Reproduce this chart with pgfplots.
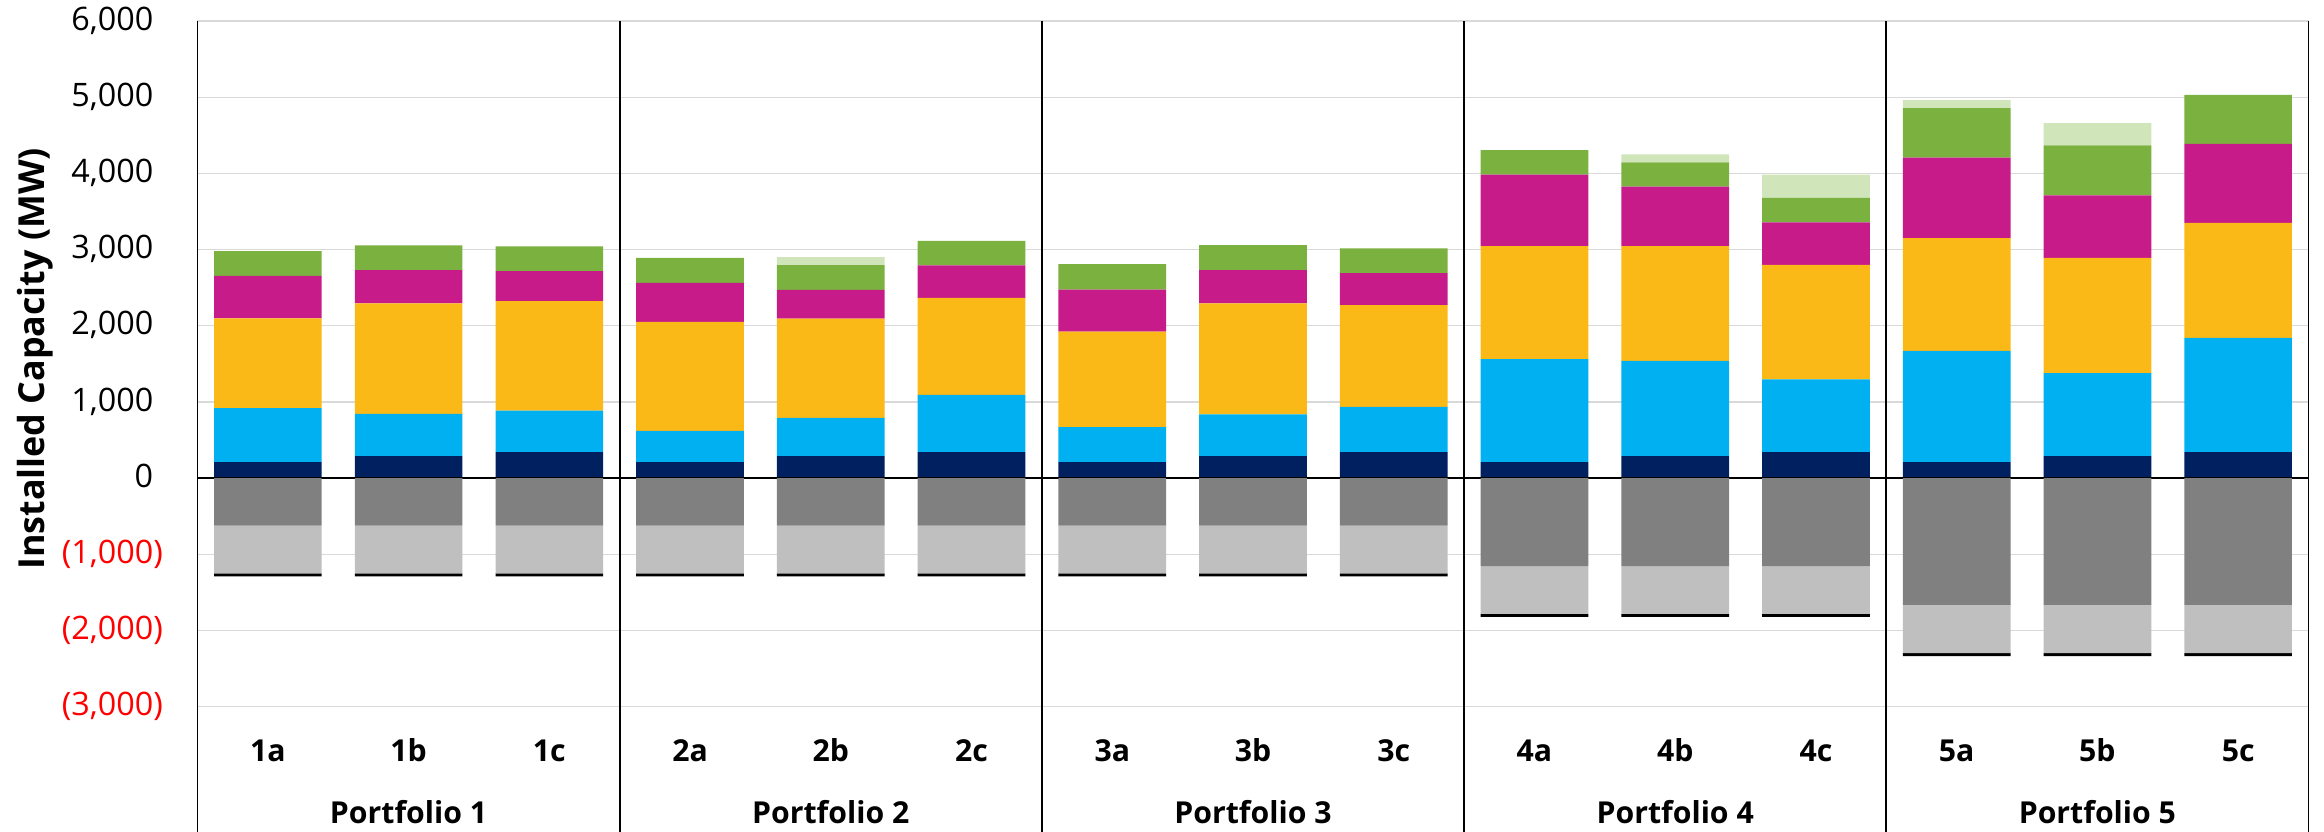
\documentclass[border=0pt]{standalone}
\usepackage{pgfplots}
\pgfplotsset{compat=1.18}
\usepackage{pgfplotstable}
\usetikzlibrary{calc}
\usepackage{fontspec}
\setmainfont{Open Sans}

\definecolor{cNavy}{HTML}{002060}
\definecolor{cBlue}{HTML}{00B0F0}
\definecolor{cOrange}{HTML}{FBB917}
\definecolor{cMagenta}{HTML}{C71B8A}
\definecolor{cGreen}{HTML}{7BB13F}
\definecolor{cLGreen}{HTML}{D0E5B9}
\definecolor{cDGray}{HTML}{808080}
\definecolor{cLGray}{HTML}{BFBFBF}
\definecolor{cGrid}{HTML}{D9D9D9}

% installed capacity additions (MW), one row per case 1a ... 5c
\pgfplotstableread{
x  navy blue orange magenta green lgreen
0  210  710  1178   558     325   0
1  290  553  1451   437     324   0
2  340  545  1440   394     324   0
3  210  410  1430   515     328   0
4  290  500  1304   376     327   105
5  340  753  1275   425     321   0
6  210  460  1254   551     334   0
7  290  546  1457   439     327   0
8  340  594  1338   418     327   0
9  210  1351 1484   941     321   0
10 290  1250 1505   781     320   105
11 340  956  1505   558     320   307
12 210  1462 1478   1059    648   105
13 290  1090 1512   822     655   293
14 340  1500 1512   1038    641   0
}\postable

% retirements (MW)
\pgfplotstableread{
x  dgray lgray black
0  -625  -625  -40
1  -625  -625  -40
2  -625  -625  -40
3  -625  -625  -40
4  -625  -625  -40
5  -625  -625  -40
6  -625  -625  -40
7  -625  -625  -40
8  -625  -625  -40
9  -1155 -628  -40
10 -1155 -628  -40
11 -1155 -628  -40
12 -1665 -633  -40
13 -1665 -633  -40
14 -1665 -633  -40
}\negtable

\pgfplotsset{
  capaxis/.style={
    scale only axis,
    width=21.11cm, height=6.854cm,
    xmin=-0.5, xmax=14.5,
    ymin=-3000, ymax=6000,
    ybar stacked,
    bar width=0.765,
    clip=false,
  },
}
\tikzset{
  grouplabel/.style={anchor=base, inner sep=0pt, font=\fontsize{8.6}{10}\selectfont\bfseries},
  sepline/.style={black, line width=0.5pt},
}

\begin{document}
\begin{tikzpicture}
\begin{axis}[
  capaxis,
  name=main,
  axis line style={draw=none},
  tick style={draw=none},
  ymajorgrids,
  grid style={cGrid, line width=0.4pt},
  ytick={-3000,-2000,...,6000},
  yticklabels={{\textcolor{red}{(3,000)}},{\textcolor{red}{(2,000)}},{\textcolor{red}{(1,000)}},{0\phantom{)}},{1,000\phantom{)}},{2,000\phantom{)}},{3,000\phantom{)}},{4,000\phantom{)}},{5,000\phantom{)}},{6,000\phantom{)}}},
  yticklabel style={anchor=east, inner sep=0pt, xshift=-0.34cm, font=\fontsize{9.2}{11}\selectfont},
  xtick={0,...,14},
  xticklabels={1a,1b,1c,2a,2b,2c,3a,3b,3c,4a,4b,4c,5a,5b,5c},
  xticklabel style={anchor=base, inner sep=0pt, yshift=-0.545cm, font=\fontsize{8.6}{10}\selectfont\bfseries},
  every axis plot/.append style={draw=none},
]
\addplot[fill=cNavy]    table[x=x, y=navy]    {\postable};
\addplot[fill=cBlue]    table[x=x, y=blue]    {\postable};
\addplot[fill=cOrange]  table[x=x, y=orange]  {\postable};
\addplot[fill=cMagenta] table[x=x, y=magenta] {\postable};
\addplot[fill=cGreen]   table[x=x, y=green]   {\postable};
\addplot[fill=cLGreen]  table[x=x, y=lgreen]  {\postable};

% portfolio group labels
\node[grouplabel] at ([yshift=-1.167cm]axis cs:1,-3000) {Portfolio 1};
\node[grouplabel] at ([yshift=-1.167cm]axis cs:4,-3000) {Portfolio 2};
\node[grouplabel] at ([yshift=-1.167cm]axis cs:7,-3000) {Portfolio 3};
\node[grouplabel] at ([yshift=-1.167cm]axis cs:10,-3000) {Portfolio 4};
\node[grouplabel] at ([yshift=-1.167cm]axis cs:13,-3000) {Portfolio 5};
% y axis title
\node[rotate=90, anchor=center, inner sep=0pt, font=\fontsize{10.2}{12}\selectfont\bfseries]
  at ([xshift=-1.62cm, yshift=0.05cm]rel axis cs:0,0.5) {Installed Capacity (MW)};
\end{axis}

\begin{axis}[
  capaxis,
  hide axis,
  every axis plot/.append style={draw=none},
]
\addplot[fill=cDGray] table[x=x, y=dgray] {\negtable};
\addplot[fill=cLGray] table[x=x, y=lgray] {\negtable};
\addplot[fill=black]  table[x=x, y=black] {\negtable};

% zero line and portfolio separators
\draw[black, line width=0.6pt] (axis cs:-0.5,0) -- (axis cs:14.5,0);
\draw[sepline] (axis cs:-0.5,6000) -- ([yshift=-1.26cm]axis cs:-0.5,-3000);
\draw[sepline] (axis cs:2.5,6000) -- ([yshift=-1.26cm]axis cs:2.5,-3000);
\draw[sepline] (axis cs:5.5,6000) -- ([yshift=-1.26cm]axis cs:5.5,-3000);
\draw[sepline] (axis cs:8.5,6000) -- ([yshift=-1.26cm]axis cs:8.5,-3000);
\draw[sepline] (axis cs:11.5,6000) -- ([yshift=-1.26cm]axis cs:11.5,-3000);
\draw[sepline] (axis cs:14.5,6000) -- ([yshift=-1.26cm]axis cs:14.5,-3000);
\end{axis}

\pgfresetboundingbox
\path[use as bounding box] ($(main.south west)+(-1.975cm,-1.254cm)$) rectangle ($(main.north east)+(0.155cm,0.212cm)$);
\end{tikzpicture}
\end{document}
